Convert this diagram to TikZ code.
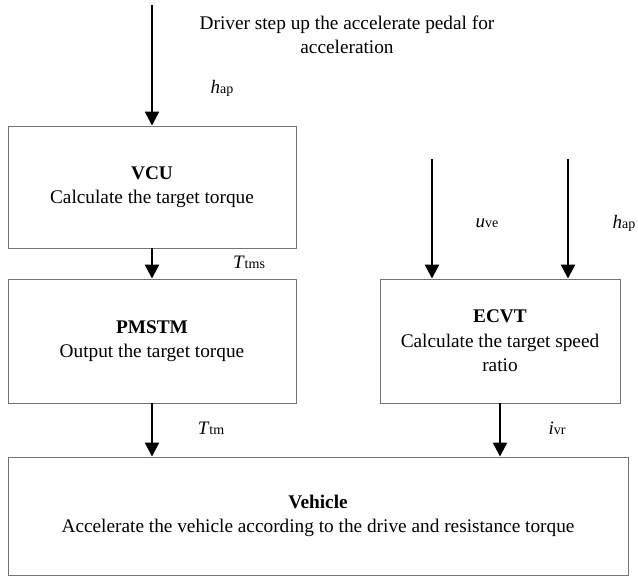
\documentclass[tikz,border=0pt]{standalone}
\usepackage{fontspec}
\setmainfont{Liberation Serif}
\usetikzlibrary{arrows.meta}
\begin{document}
\begin{tikzpicture}[x=1pt,y=-1pt,
  blk/.style={draw=black!55,line width=0.9pt,inner sep=0pt,align=center,font=\fontsize{19.3}{24.5}\selectfont},
  flow/.style={line width=2.4pt,-{Triangle[length=14pt,width=14pt]}},
  lbl/.style={font=\fontsize{19.3}{24}\selectfont,inner sep=0pt},
  sym/.style={font=\fontsize{19}{22}\selectfont,inner sep=0pt}]
\useasboundingbox (0,0) rectangle (638,581);
\node[blk,minimum width=288pt,minimum height=122pt] (vcu) at (152,187) {\textbf{VCU}\\Calculate the target torque};
\node[blk,minimum width=288pt,minimum height=124pt] (pm) at (152,341) {\textbf{PMSTM}\\Output the target torque};
\node[blk,minimum width=240pt,minimum height=124pt] (ecvt) at (500,341) {\textbf{ECVT}\\Calculate the target speed\\ratio};
\node[blk,minimum width=620pt,minimum height=118pt] (veh) at (318,516) {\textbf{Vehicle}\\Accelerate the vehicle according to the drive and resistance torque};
\coordinate (s0) at (152,5);
\coordinate (s1) at (432,159);
\coordinate (s2) at (568,159);
\node[lbl,align=center] (drv) at (347,35) {Driver step up the accelerate pedal for\\acceleration};
\draw[flow] (s0) -- (vcu.north);
\draw[flow] (vcu.south) -- (pm.north);
\draw[flow] (pm.south) -- (pm.south |- veh.north);
\draw[flow] (s1) -- (s1 |- ecvt.north);
\draw[flow] (s2) -- (s2 |- ecvt.north);
\draw[flow] (ecvt.south) -- (ecvt.south |- veh.north);
\node[sym] (l1) at (222,88) {\textit{h}{\fontsize{14}{16}\selectfont ap}};
\node[sym] (l2) at (249,262) {\textit{T}{\fontsize{14}{16}\selectfont tms}};
\node[sym] (l3) at (487,223) {\textit{u}{\fontsize{14}{16}\selectfont ve}};
\node[sym] (l4) at (624,223) {\textit{h}{\fontsize{14}{16}\selectfont ap}};
\node[sym] (l5) at (211,428) {\textit{T}{\fontsize{14}{16}\selectfont tm}};
\node[sym] (l6) at (557,428) {\textit{i}{\fontsize{14}{16}\selectfont vr}};
\end{tikzpicture}
\end{document}
